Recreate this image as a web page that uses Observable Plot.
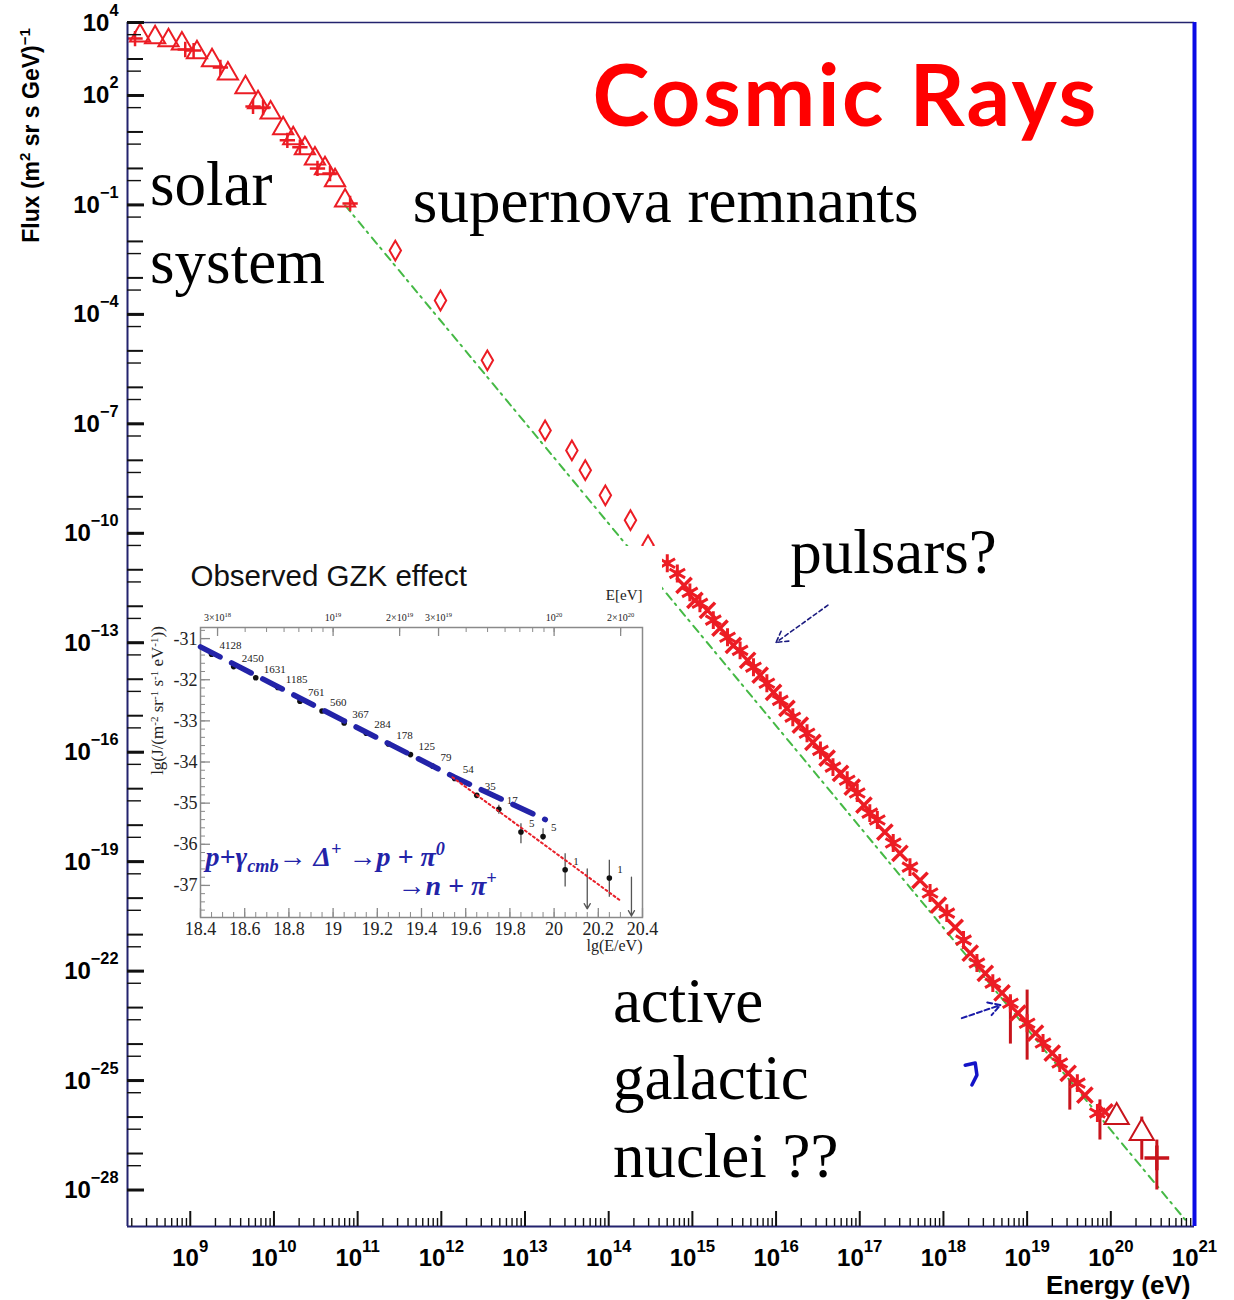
<!DOCTYPE html>
<html>
<head>
<meta charset="utf-8">
<script src="https://cdn.jsdelivr.net/npm/d3@7"></script>
<script src="https://cdn.jsdelivr.net/npm/@observablehq/plot@0.6"></script>
<style>
  body { margin: 0; background: #fff; }
  #wrap { position: relative; width: 1234px; height: 1300px; overflow: hidden; }
  #inset { position: absolute; left: 145px; top: 546px; }
</style>
</head>
<body>
<div id="wrap"><div id="main"></div><div id="inset"></div></div>
<script>
// ---------- all-particle spectrum (log10 E/eV, log10 flux) ----------
// low-energy, solar-modulated region (open triangles)
const lowLgE = [8.40, 8.58, 8.74, 8.90, 9.08, 9.26, 9.45, 9.66, 9.81, 9.96, 10.11, 10.23, 10.37, 10.49, 10.61, 10.73, 10.85];
const lowLgF = [3.64, 3.59, 3.51, 3.42, 3.18, 2.96, 2.60, 2.22, 1.81, 1.53, 1.10, 0.82, 0.55, 0.27, 0.00, -0.33, -0.88];
// second low-energy data set (small crosses)
const low2LgE = [8.34, 8.94, 9.04, 9.36, 9.75, 9.87, 10.16, 10.31, 10.52, 10.67, 10.91];
const low2LgF = [3.56, 3.26, 3.23, 2.77, 1.70, 1.67, 0.77, 0.58, 0.00, -0.14, -0.96];
// sparse direct measurements between 1e11 and 3e14 eV
const midLgE = [11.45, 11.99, 12.55, 13.24, 13.56, 13.72, 13.96, 14.26, 14.47];
const midLgF = [-2.25, -3.62, -5.26, -7.18, -7.73, -8.27, -8.96, -9.64, -10.33];
// air-shower data through the knee and ankle
const kneeALgE = [14.70, 14.82, 14.97, 15.09, 15.25, 15.42, 15.57, 15.73, 15.89, 16.05, 16.20, 16.37, 16.53, 16.68, 16.85, 16.97, 17.12, 17.21, 17.40, 17.60, 17.84, 18.04, 18.24, 18.40, 18.59, 18.80, 19.00, 19.19, 19.39, 19.60, 19.84];
const kneeALgF = [-10.82, -11.10, -11.62, -11.92, -12.38, -12.85, -13.21, -13.67, -14.11, -14.58, -15.04, -15.48, -15.95, -16.41, -16.77, -17.12, -17.67, -17.86, -18.49, -19.15, -19.86, -20.41, -21.15, -21.78, -22.33, -22.88, -23.43, -23.97, -24.52, -25.07, -25.89];
const kneeBLgE = [14.90, 15.03, 15.18, 15.33, 15.49, 15.66, 15.81, 15.97, 16.13, 16.29, 16.44, 16.61, 16.77, 16.91, 17.05, 17.30, 17.48, 17.72, 17.94, 18.14, 18.32, 18.50, 18.70, 18.89, 19.10, 19.30, 19.49, 19.69, 19.93];
const kneeBLgF = [-11.43, -11.84, -12.11, -12.60, -13.07, -13.48, -13.89, -14.36, -14.80, -15.26, -15.73, -16.16, -16.58, -16.96, -17.45, -18.19, -18.77, -19.51, -20.19, -20.80, -21.51, -22.06, -22.60, -23.15, -23.70, -24.25, -24.80, -25.40, -25.86];
// highest-energy points and their error bars
const uheLgE = [20.07, 20.37];
const uheLgF = [-26.00, -26.44];
const lastLgE = [20.55];
const lastLgF = [-27.12];
const errLgE = [18.80, 19.00, 19.51, 19.87, 20.37, 20.55];
const errLo  = [-24.00, -24.44, -25.81, -26.63, -27.18, -28.00];
const errHi  = [-22.70, -22.52, -24.99, -25.53, -26.00, -26.63];
// E^-2.7 reference power law
const refLgE = [10.85, 20.89];
const refLgF = [-1.01, -28.82];

// axis ticks (exponents)
const xLabelExps = d3.range(9, 22);
const yLabelExps = [4, 2, -1, -4, -7, -10, -13, -16, -19, -22, -25, -28];
const yDecades = d3.range(-28, 4);
const xDecades = d3.range(9, 21);
const xSub = d3.range(2, 10);

// annotations: text, log10 E and log10 flux at the start of the last baseline
const noteText = ["solar", "system", "supernova remnants", "pulsars?", "active\ngalactic\nnuclei ??"];
const noteLgE = [8.52, 8.52, 11.66, 16.17, 14.05];
const noteLgF = [-1.01, -3.15, -1.48, -11.10, -27.64];
// pointer arrows [x1, y1, x2, y2] in log10 units
const pulsarArrow = [16.62, -11.97, 16.00, -12.99];
const agnArrow = [18.22, -23.29, 18.68, -22.93];
const hookLgE = [18.26, 18.38, 18.40, 18.34];
const hookLgF = [-24.58, -24.52, -24.85, -25.12];

// ---------- inset: spectrum above 2.5e18 eV ----------
const gzkLgE = [18.45, 18.55, 18.65, 18.75, 18.85, 18.95, 19.05, 19.15, 19.25, 19.35, 19.45, 19.55, 19.65, 19.75, 19.85, 19.95, 20.05, 20.25];
const gzkLgJ = [-31.38, -31.68, -31.95, -32.19, -32.52, -32.76, -33.05, -33.30, -33.56, -33.82, -34.10, -34.40, -34.81, -35.15, -35.70, -35.81, -36.62, -36.82];
const gzkCounts = ["4128", "2450", "1631", "1185", "761", "560", "367", "284", "178", "125", "79", "54", "35", "17", "5", "5", "1", "1"];
const gzkErrE  = [19.75, 19.85, 19.95, 20.05, 20.25];
const gzkErrHi = [-35.05, -35.50, -35.62, -36.23, -36.39];
const gzkErrLo = [-35.27, -35.99, -35.90, -37.04, -37.29];
const gzkLimE   = [20.15, 20.35];
const gzkLimTop = [-36.60, -36.80];
const gzkLimBot = [-37.57, -37.74];
const fitLgE = [18.40, 19.05, 19.55, 19.96];
const fitLgJ = [-31.20, -33.00, -34.37, -35.40];
const cutLgE = [19.54, 20.30];
const cutLgJ = [-34.37, -37.37];
const topTickE = [3e18, 4e18, 5e18, 6e18, 7e18, 8e18, 9e18, 1e19, 2e19, 3e19, 4e19, 5e19, 6e19, 7e19, 8e19, 9e19, 1e20, 2e20];
const topLabelE = [3e18, 1e19, 2e19, 3e19, 1e20, 2e20];
const topLabelText = ["3×10^{18}", "10^{19}", "2×10^{19}", "3×10^{19}", "10^{20}", "2×10^{20}"];

// ---------- helpers ----------
const rows = (ex, fy) => ex.map((e, i) => ({E: 10 ** e, F: 10 ** fy[i]}));
const pairs = (xs, ys) => xs.map((x, i) => ({x, y: ys[i]}));
const minus = n => (n < 0 ? "−" + (-n) : String(n));

// Turn "a^{b}" and "a_{b}" into tspans inside the text elements of one mark
function richText(svg, label, base, scale, raise, drop) {
  const ns = "http://www.w3.org/2000/svg";
  const sel = `g[aria-description="${label}"] text, text[aria-label="${label}"]`;
  for (const t of svg.querySelectorAll(sel)) {
    const parts = t.textContent.split(/(\^\{[^}]*\}|_\{[^}]*\})/).filter(s => s);
    t.textContent = "";
    let shift = 0;
    for (const p of parts) {
      const span = document.createElementNS(ns, "tspan");
      let target = 0, str = p;
      if (p.startsWith("^{")) { target = -raise; str = p.slice(2, -1); span.setAttribute("font-size", base * scale); }
      else if (p.startsWith("_{")) { target = drop; str = p.slice(2, -1); span.setAttribute("font-size", base * scale); }
      if (target !== shift) span.setAttribute("dy", target - shift);
      shift = target;
      span.textContent = str;
      t.appendChild(span);
    }
  }
}

const RED = "#ec1c24";
const NAVY = "#23236e";
const SERIF = "'Liberation Serif', 'Times New Roman', serif";
const SANS = "'Liberation Sans', Arial, sans-serif";

const W = 1234, H = 1300, mT = 22, mR = 40, mB = 74, mL = 127;
const plotW = W - mL - mR, plotH = H - mT - mB;

const xMinor = xDecades.concat([8]).flatMap(n => xSub.map(m => m * 10 ** n)).filter(v => v > 10 ** 8.25 && v < 1e21);

const main = Plot.plot({
  width: W, height: H,
  marginTop: mT, marginRight: mR, marginBottom: mB, marginLeft: mL,
  x: {type: "log", domain: [10 ** 8.25, 1e21], axis: null},
  y: {type: "log", domain: [1e-29, 1e4], axis: null},
  style: {background: "white", color: "black", overflow: "visible"},
  marks: [
    // reference power law
    Plot.line(rows(refLgE, refLgF), {x: "E", y: "F", stroke: "#45b945", strokeWidth: 2, strokeDasharray: "8,5,2,6"}),
    // low-energy data
    Plot.dot(rows(low2LgE, low2LgF), {x: "E", y: "F", symbol: "plus", r: 5, stroke: RED, strokeWidth: 2.5}),
    Plot.dot(rows(lowLgE, lowLgF), {x: "E", y: "F", symbol: "triangle", r: 7.5, stroke: RED, strokeWidth: 2, fill: "none"}),
    // direct measurements
    Plot.dot(rows(midLgE, midLgF), {x: "E", y: "F", symbol: "diamond", r: 6, stroke: RED, strokeWidth: 2, fill: "none"}),
    // air-shower data
    Plot.ruleX(errLgE.map((e, i) => ({E: 10 ** e, lo: 10 ** errLo[i], hi: 10 ** errHi[i]})), {x: "E", y1: "lo", y2: "hi", stroke: "#c8141c", strokeWidth: 3}),
    Plot.dot(rows(kneeBLgE, kneeBLgF), {x: "E", y: "F", symbol: "times", r: 7, stroke: RED, strokeWidth: 3.5}),
    Plot.dot(rows(kneeALgE, kneeALgF), {x: "E", y: "F", symbol: "asterisk", r: 8.5, stroke: RED, strokeWidth: 3}),
    Plot.dot(rows(kneeALgE, kneeALgF), {x: "E", y: "F", symbol: "square", r: 3.2, fill: RED}),
    Plot.dot(rows(uheLgE, uheLgF), {x: "E", y: "F", symbol: "triangle", r: 9, stroke: "#c8141c", strokeWidth: 2, fill: "white"}),
    Plot.dot(rows(lastLgE, lastLgF), {x: "E", y: "F", symbol: "plus", r: 8, stroke: "#c8141c", strokeWidth: 3.5}),

    // frame
    Plot.ruleY([1e4], {stroke: NAVY, strokeWidth: 1.3}),
    Plot.ruleY([1e-29], {stroke: NAVY, strokeWidth: 2}),
    Plot.ruleX([10 ** 8.25], {stroke: NAVY, strokeWidth: 2}),
    Plot.ruleX([1e21], {stroke: "#0a0ae6", strokeWidth: 4}),

    // inward ticks
    Plot.tickY(yDecades, {y: d => 10 ** d, insetRight: plotW - 16, stroke: "#111", strokeWidth: 2}),
    Plot.tickY(yLabelExps, {y: d => 10 ** d, insetRight: plotW - 17, stroke: "#111", strokeWidth: 3}),
    Plot.tickY(yDecades.map(d => d + 1), {y: d => 10 ** (d - 1 / 3), insetRight: plotW - 14, stroke: "#111", strokeWidth: 1.4}),
    Plot.tickX(xDecades, {x: d => 10 ** d, insetTop: plotH - 15, stroke: "#111", strokeWidth: 2}),
    Plot.tickX(xMinor, {x: d => d, insetTop: plotH - 8, stroke: "#111", strokeWidth: 1.4}),

    // tick labels
    Plot.text(xLabelExps, {x: d => 10 ** d, frameAnchor: "bottom", dy: 39, lineAnchor: "bottom", textAnchor: "middle",
      text: d => `10^{${minus(d)}}`, fontFamily: SANS, fontSize: 24, fontWeight: "bold", ariaDescription: "x-tick-label"}),
    Plot.text(yLabelExps, {y: d => 10 ** d, frameAnchor: "left", dx: -9, dy: 8, lineAnchor: "bottom", textAnchor: "end",
      text: d => `10^{${minus(d)}}`, fontFamily: SANS, fontSize: 24, fontWeight: "bold", ariaDescription: "y-tick-label"}),
    // axis titles
    Plot.text(["Energy (eV)"], {text: d => d, frameAnchor: "bottom-right", dx: -4, dy: 67, lineAnchor: "bottom", textAnchor: "end",
      fontFamily: SANS, fontSize: 26, fontWeight: "bold"}),
    Plot.text(["Flux (m^{2} sr s GeV)^{−1}"], {text: d => d, frameAnchor: "top-left", dx: -105, dy: 113, rotate: -90, textAnchor: "middle",
      fontFamily: SANS, fontSize: 23, fontWeight: "bold", ariaDescription: "y-title"}),

    // pointers
    Plot.arrow([pulsarArrow], {x1: d => 10 ** d[0], y1: d => 10 ** d[1], x2: d => 10 ** d[2], y2: d => 10 ** d[3],
      stroke: "#1c1c80", strokeWidth: 1.6, strokeDasharray: "4,3", headLength: 12}),
    Plot.arrow([agnArrow], {x1: d => 10 ** d[0], y1: d => 10 ** d[1], x2: d => 10 ** d[2], y2: d => 10 ** d[3],
      stroke: "#1a1aa8", strokeWidth: 2, strokeDasharray: "5,3", headLength: 10}),
    Plot.line(rows(hookLgE, hookLgF), {x: "E", y: "F", stroke: "#1414c8", strokeWidth: 3.5}),

    // source annotations
    Plot.text(noteText.map((t, i) => ({t, E: 10 ** noteLgE[i], F: 10 ** noteLgF[i]})), {x: "E", y: "F", text: "t",
      textAnchor: "start", lineAnchor: "bottom", lineHeight: 1.23, fontFamily: SERIF, fontSize: 63, fill: "black"}),
    // title
    Plot.text(["Cosmic Rays"], {text: d => d, frameAnchor: "top-left", dx: 465, dy: 103, lineAnchor: "bottom", textAnchor: "start",
      fontFamily: "'Comic Sans MS', Lato, sans-serif", fontWeight: "bold", fontSize: 86, fill: "#ff0000", ariaDescription: "title"})
  ]
});
richText(main, "x-tick-label", 24, 0.7, 14, 0);
richText(main, "y-tick-label", 24, 0.68, 15, 0);
richText(main, "y-title", 23, 0.65, 9, 0);
for (const t of main.querySelectorAll('g[aria-description="title"] text')) t.setAttribute("letter-spacing", "2.5");
document.getElementById("main").appendChild(main);

// ---------- inset ----------
const iW = 517, iH = 414, iT = 81, iR = 20, iB = 43, iL = 55;
const iPW = iW - iL - iR, iPH = iH - iT - iB;
const BLUE = "#2323a8";
const xMajorI = d3.range(184, 205, 2).map(v => v / 10);
const xMinorI = d3.range(368, 409).map(v => v / 20);
const yMajorI = d3.range(-37, -30);
const yMinorI = d3.range(-188, -153).map(v => v / 5);

const inset = Plot.plot({
  width: iW, height: iH, marginTop: iT, marginRight: iR, marginBottom: iB, marginLeft: iL,
  x: {domain: [18.4, 20.4], axis: null},
  y: {domain: [-37.78, -30.73], axis: null},
  style: {background: "white", color: "black", overflow: "visible"},
  marks: [
    Plot.frame({stroke: "#8a8a8a", strokeWidth: 1.5}),
    Plot.tickX(xMajorI, {x: d => d, insetTop: iPH - 9, stroke: "#8a8a8a", strokeWidth: 1.3}),
    Plot.tickX(xMinorI, {x: d => d, insetTop: iPH - 5, stroke: "#8a8a8a", strokeWidth: 1}),
    Plot.tickY(yMajorI, {y: d => d, insetRight: iPW - 10, stroke: "#8a8a8a", strokeWidth: 1.3}),
    Plot.tickY(yMinorI, {y: d => d, insetRight: iPW - 5, stroke: "#8a8a8a", strokeWidth: 1}),
    Plot.tickX(topTickE, {x: d => Math.log10(d), insetBottom: iPH - 5, stroke: "#8a8a8a", strokeWidth: 1}),
    Plot.tickX(topLabelE, {x: d => Math.log10(d), insetBottom: iPH - 9, stroke: "#8a8a8a", strokeWidth: 1.3}),
    Plot.text(xMajorI, {x: d => d, text: d => String(d), frameAnchor: "bottom", dy: 17, lineAnchor: "bottom",
      fontFamily: SERIF, fontSize: 18, fill: "#222"}),
    Plot.text(yMajorI, {y: d => d, text: d => String(d), frameAnchor: "left", dx: -3, dy: 6, lineAnchor: "bottom", textAnchor: "end",
      fontFamily: SERIF, fontSize: 18, fill: "#222"}),
    Plot.text(topLabelE, {x: d => Math.log10(d), text: (d, i) => topLabelText[i], frameAnchor: "top", dy: -7, lineAnchor: "bottom",
      fontFamily: SERIF, fontSize: 10, fill: "#222", ariaDescription: "top-label"}),
    Plot.text(["E[eV]"], {text: d => d, frameAnchor: "top-right", dy: -28, lineAnchor: "bottom", textAnchor: "end",
      fontFamily: SERIF, fontSize: 15, fill: "#222"}),
    Plot.text(["lg(E/eV)"], {text: d => d, frameAnchor: "bottom-right", dy: 33, lineAnchor: "bottom", textAnchor: "end",
      fontFamily: SERIF, fontSize: 16, fill: "#222"}),
    Plot.text(["lg(J/(m^{-2} sr^{-1} s^{-1} eV^{-1}))"], {text: d => d, frameAnchor: "left", dx: -43, dy: -72, rotate: -90,
      textAnchor: "middle", fontFamily: SERIF, fontSize: 17, fill: "#222", ariaDescription: "inset-y-title"}),
    Plot.text(["Observed GZK effect"], {text: d => d, frameAnchor: "top-left", dx: -10, dy: -42, lineAnchor: "bottom", textAnchor: "start",
      fontFamily: SANS, fontSize: 29.5, fill: "#111"}),

    // measurements
    Plot.ruleX(gzkErrE.map((x, i) => ({x, y1: gzkErrHi[i], y2: gzkErrLo[i]})), {x: "x", y1: "y1", y2: "y2", stroke: "#555", strokeWidth: 1.3}),
    Plot.arrow(gzkLimE.map((x, i) => ({x, y1: gzkLimTop[i], y2: gzkLimBot[i]})), {x1: "x", x2: "x", y1: "y1", y2: "y2",
      stroke: "#555", strokeWidth: 1.3, headLength: 7}),
    Plot.dot(pairs(gzkLgE, gzkLgJ), {x: "x", y: "y", r: 2.8, fill: "#111"}),
    Plot.text(gzkLgE.map((x, i) => ({x, y: gzkLgJ[i], t: gzkCounts[i]})), {x: "x", y: "y", text: "t", dx: 8, dy: -5,
      textAnchor: "start", lineAnchor: "bottom", fontFamily: SERIF, fontSize: 11, fill: "#222"}),
    // fitted spectra
    Plot.line(pairs(fitLgE, fitLgJ), {x: "x", y: "y", stroke: BLUE, strokeWidth: 5.5, strokeDasharray: "22,13"}),
    Plot.line(pairs(cutLgE, cutLgJ), {x: "x", y: "y", stroke: "#e8202a", strokeWidth: 2, strokeDasharray: "2,3"}),

    // interaction
    Plot.text([{x: 18.423, y: -36.54, t: "p+γ_{cmb}→ Δ^{+} →p + π^{0}"}, {x: 19.291, y: -37.24, t: "→n + π^{+}"}],
      {x: "x", y: "y", text: "t", textAnchor: "start", lineAnchor: "bottom", fontFamily: SERIF, fontSize: 28,
        fontStyle: "italic", fontWeight: "bold", fill: BLUE, ariaDescription: "reaction"})
  ]
});
richText(inset, "top-label", 10, 0.65, 4, 0);
richText(inset, "inset-y-title", 17, 0.65, 5, 0);
richText(inset, "reaction", 28, 0.65, 11, 6);
document.getElementById("inset").appendChild(inset);
</script>
</body>
</html>
